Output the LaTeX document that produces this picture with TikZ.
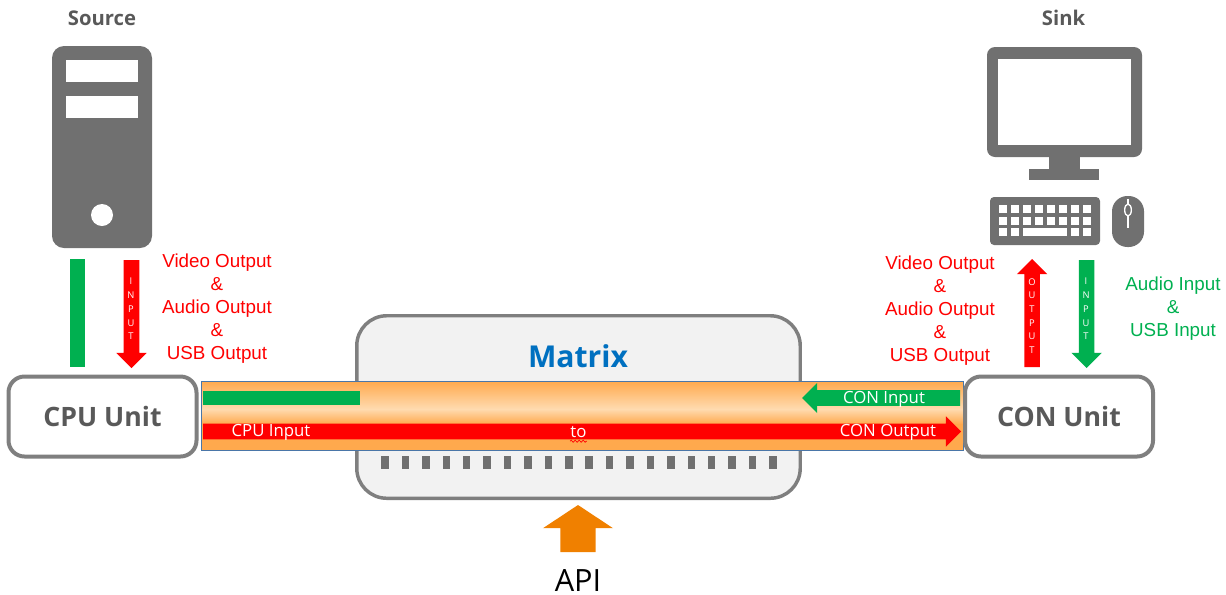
\documentclass[tikz,border=0pt]{standalone}
\usepackage{fontspec}
\setmainfont{Open Sans}
\newfontfamily\arialfont{Liberation Sans}
\usetikzlibrary{shapes,arrows}
\usetikzlibrary{decorations.pathmorphing}
\definecolor{iconGray}{HTML}{707070}
\definecolor{edgeGray}{HTML}{7F7F7F}
\definecolor{textGray}{HTML}{595959}
\definecolor{outGreen}{HTML}{00B050}
\definecolor{apiOrange}{HTML}{F08000}
\definecolor{matrixBlue}{HTML}{0070C0}
\definecolor{bandEdge}{HTML}{4A76A8}
\definecolor{bandOrange}{HTML}{FFA94D}
\definecolor{bandLight}{HTML}{FFDBB0}
\pgfdeclareverticalshading{bandshade}{100bp}{
  color(0bp)=(bandOrange); color(25bp)=(bandOrange); color(43.8bp)=(bandOrange);
  color(54.7bp)=(bandLight); color(75bp)=(bandOrange); color(100bp)=(bandOrange)}
\tikzstyle{block} = [draw=none, inner sep=0pt, outer sep=0pt]
\tikzstyle{unit} = [draw=edgeGray, line width=3pt, fill=white, rounded corners=12pt, inner sep=0pt,
minimum width=141pt, minimum height=60pt, text=textGray,
font=\fontsize{20}{24}\selectfont\bfseries]
\tikzstyle{caption} = [align=center, font=\arialfont\fontsize{14.1}{17.25}\selectfont]
\tikzstyle{flow} = [single arrow, single arrow tip angle=90, inner sep=5.625pt, outer sep=0pt,
single arrow head extend=5.6pt, draw=none]

\begin{document}
\begin{tikzpicture}[x=0.75pt,y=-0.75pt,
      bar/.style={block, minimum width=11.25pt},
      hbar/.style={block, minimum height=10.5pt},
      heading/.style={text=textGray, font=\fontsize{15.2}{18}\selectfont\bfseries},
      letters/.style={text=white, align=center, inner sep=0pt, font=\fontsize{7}{10.3}\selectfont},
      intext/.style={text=white, inner sep=0pt, font=\fontsize{12.6}{15}\selectfont}]
    \useasboundingbox (0,0) rectangle (1226,594);
    %% Source
    \node [heading] (source) at (102,18) {Source};
    \node [block, fill=iconGray, rounded corners=9pt, minimum width=75pt, minimum height=151.5pt] (tower) at (102,147) {};
    \node [block, fill=white, minimum width=54pt, minimum height=16.5pt] (slotA) at (102,71) {};
    \node [block, fill=white, minimum width=54pt, minimum height=16.5pt] (slotB) at (102,107) {};
    \node [block, circle, fill=white, minimum size=16.5pt] (power) at (102,215) {};
    %% Sink
    \node [heading] (sink) at (1063.5,18) {Sink};
    \node [block, fill=iconGray, rounded corners=6pt, minimum width=116.25pt, minimum height=82.5pt] (screen) at (1064.5,102) {};
    \node [block, fill=white, minimum width=99.75pt, minimum height=64.5pt] (view) at (1064.5,102) {};
    \node [block, fill=iconGray, minimum width=23.25pt, minimum height=10pt] (neck) at (1064.5,163) {};
    \node [block, fill=iconGray, minimum width=52.5pt, minimum height=8.25pt] (stand) at (1064,174.5) {};
    \node [block, fill=iconGray, rounded corners=3pt, minimum width=82.5pt, minimum height=36pt] (keyboard) at (1045,221) {};
    \foreach \c in {0,...,7}
      \foreach \r in {0,1}
        \node [block, fill=white, minimum size=6pt] (key\c\r) at (1003.3+11.9*\c,209+11.7*\r) {};
    \foreach \c in {0,1,6,7}
      \node [block, fill=white, minimum size=6pt] (key\c b) at (1003.3+11.9*\c,232.4) {};
    \node [block, fill=white, minimum width=33pt, minimum height=6pt] (space) at (1045,232.4) {};
    \node [block, fill=iconGray, rounded corners=11.5pt, minimum width=24pt, minimum height=38.25pt] (mouse) at (1128,221.5) {};
    \draw [white, line width=1pt] (1128,199) -- (1128,228);
    \node [block, ellipse, draw=white, line width=1pt, fill=iconGray, minimum width=5pt, minimum height=9pt] (wheel) at (1128,210) {};
    %% Matrix
    \node [block, draw=edgeGray, line width=2.6pt, fill=black!5, rounded corners=22.5pt, minimum width=332.6pt, minimum height=136.9pt] (matrix) at (578.5,407) {};
    \node [text=matrixBlue, font=\fontsize{22.6}{27}\selectfont\bfseries] (matrixName) at (578,356) {Matrix};
    \foreach \i in {0,...,19}
      \node [block, fill=iconGray, minimum width=5.6pt, minimum height=9.75pt] (tick\i) at (385+20.42*\i,462.5) {};
    \node [block, draw=bandEdge, line width=0.75pt, shading=bandshade, minimum width=571.5pt, minimum height=51.75pt] (band) at (582,415.5) {};
    \node [unit] (cpu) at (102.5,416.5) {CPU Unit};
    \node [unit] (con) at (1059,416.5) {CON Unit};
    %% Band flows
    \node [hbar, fill=outGreen, minimum width=117.75pt] (cpuOut) at (281.5,398) {};
    \node [flow, fill=outGreen, shape border rotate=180, minimum height=118.5pt] (conIn) at (802,398) [anchor=tip] {};
    \node [flow, fill=red, minimum height=568.5pt] (cpuCon) at (961,431.5) [anchor=tip] {};
    \node [intext] (cpuInName) at (271,432.5) {CPU Input};
    \node [intext] (toName) at (578.5,432) {to};
    \node [intext] (conOutName) at (888,432.5) {CON Output};
    \node [intext] (conInName) at (884,399.5) {CON Input};
    \draw [red, line width=0.5pt, decorate, decoration={zigzag, segment length=3pt, amplitude=0.8pt}] ([yshift=-2.5pt]toName.south west) -- ([yshift=-2.5pt]toName.south east);
    %% Left side
    \node [bar, fill=outGreen, minimum height=81pt] (srcGreen) at (77.5,313) {};
    \node [flow, fill=red, shape border rotate=270, minimum height=81pt] (srcRed) at (131.5,368) [anchor=tip] {};
    \node [letters] (srcInput) at (131,309) {I\\N\\P\\U\\T};
    \node [caption, text=red] (srcLabel) at (217,309) {Video Output\\\&\\Audio Output\\\&\\USB Output};
    %% Right side
    \node [flow, fill=red, shape border rotate=90, minimum height=81pt] (snkRed) at (1032,259) [anchor=tip] {};
    \node [flow, fill=outGreen, shape border rotate=270, minimum height=81pt] (snkGreen) at (1086.5,368) [anchor=tip] {};
    \node [letters] (snkOutput) at (1032,316) {O\\U\\T\\P\\U\\T};
    \node [letters] (snkInput) at (1086,309) {I\\N\\P\\U\\T};
    \node [caption, text=red] (snkLabel) at (940,311) {Video Output\\\&\\Audio Output\\\&\\USB Output};
    \node [caption, text=outGreen] (snkInLabel) at (1173,309) {Audio Input\\\&\\USB Input};
    %% API
    \node [flow, fill=apiOrange, shape border rotate=90, inner sep=13.1pt, single arrow head extend=13pt, single arrow tip angle=113, minimum height=34.5pt] (apiArrow) at (578,505) [anchor=tip] {};
    \node [text=black, inner sep=0pt, font=\fontsize{23}{27}\selectfont] (api) at (578,580) {API};
\end{tikzpicture}
\end{document}
